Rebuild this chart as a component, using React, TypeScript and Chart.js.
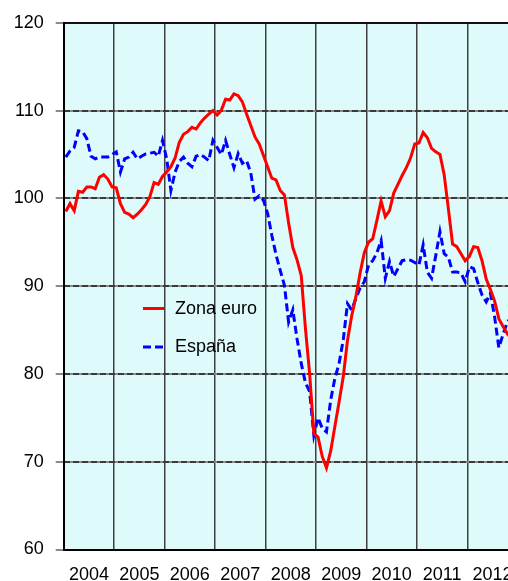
import React, { useEffect, useRef } from "react";
import { Chart, registerables } from "chart.js";

Chart.register(...registerables);

// ---- data ----
const startYear = 2004;
const endYear = 2013;
const yearLabels = ["2004", "2005", "2006", "2007", "2008", "2009", "2010", "2011", "2012"];
const yMin = 60;
const yMax = 120;
const yStep = 10;
const seriesNames = ["Zona euro", "España"];

// monthly values, Jan 2004 onward
const zonaEuro = [
  98.5, 99.4, 98.6, 100.8, 100.7, 101.3, 101.3, 101.1, 102.4, 102.7, 102.2, 101.3,
  101.2, 99.4, 98.4, 98.2, 97.8, 98.2, 98.7, 99.3, 100.2, 101.8, 101.6, 102.5,
  103.0, 103.6, 104.6, 106.4, 107.3, 107.6, 108.1, 107.9, 108.6, 109.15, 109.6, 110.0,
  109.5, 110.05, 111.3, 111.2, 111.9, 111.7, 111.0, 109.6, 108.3, 107.0, 106.2, 104.9,
  103.6, 102.3, 102.1, 100.9, 100.4, 97.2, 94.4, 93.0, 91.2, 85.2, 80.0, 73.2,
  72.8, 70.6, 69.3, 71.2, 74.0, 76.8, 79.7, 83.8, 86.6, 88.8, 91.5, 93.8,
  95.0, 95.4, 97.5, 99.7, 97.9, 98.6, 100.6, 101.6, 102.6, 103.5, 104.6, 106.2,
  106.3, 107.5, 106.9, 105.7, 105.3, 105.0, 102.7, 98.8, 94.8, 94.5, 93.7, 92.9,
  93.4, 94.5, 94.4, 92.9, 90.8, 89.6, 88.3, 86.3, 85.4, 84.6, 84.0,
];

const espana = [
  104.7, 105.4, 105.8, 107.7, 107.6, 106.8, 104.8, 104.5, 104.7, 104.7, 104.7, 105.0,
  105.3, 103.0, 104.5, 104.7, 105.25, 104.5, 104.8, 105.05, 105.15, 105.25, 104.8, 106.6,
  104.5, 100.9, 103.0, 104.2, 104.7, 104.0, 103.6, 104.8, 105.0, 104.7, 104.3, 106.6,
  105.8, 105.0, 106.6, 105.0, 103.5, 105.1, 104.0, 104.3, 102.9, 99.9, 100.3, 99.8,
  98.3, 95.8, 93.6, 91.8, 90.1, 85.9, 87.3, 84.0, 81.2, 79.0, 78.0, 73.0,
  75.0, 73.8, 73.4, 77.0, 79.5, 81.2, 83.9, 88.0, 87.3, 88.6, 89.8, 90.5,
  92.4, 92.9, 93.8, 95.2, 90.9, 92.8, 91.1, 92.0, 92.9, 93.0, 92.95, 92.7,
  92.4, 94.7, 91.6, 90.9, 93.5, 96.2, 93.7, 93.3, 91.6, 91.6, 91.5, 90.5,
  92.2, 92.0, 90.4, 89.0, 88.2, 89.2, 86.5, 83.0, 84.5, 85.9, 86.5,
];

const W = 540;
const H = 600;
const FONT = '"Liberation Sans", Arial, Helvetica, sans-serif';

export default function App() {
  const ref = useRef<HTMLCanvasElement>(null);

  useEffect(() => {
    if (!ref.current) return;
    const toPoints = (arr: number[]) =>
      arr.map((v, i) => ({ x: startYear + (i + 0.5) / 12, y: v }));

    const xTickValues: number[] = [];
    for (let v = startYear; v <= endYear + 1e-9; v += 0.5) xTickValues.push(v);

    const bgPlugin = {
      id: "bgArea",
      beforeDraw(chart: any) {
        const { ctx, chartArea: a } = chart;
        ctx.save();
        ctx.fillStyle = "#DFFAFB";
        ctx.fillRect(a.left, a.top, a.right - a.left, a.bottom - a.top);
        ctx.restore();
      },
    };

    const legendPlugin = {
      id: "inlineLegend",
      afterDatasetsDraw(chart: any) {
        const ctx = chart.ctx;
        const items = [
          { name: seriesNames[0], color: "#FF0000", dash: [] as number[], y: 308.5, x2: 164 },
          { name: seriesNames[1], color: "#0000FF", dash: [8, 4], y: 347, x2: 163 },
        ];
        ctx.save();
        items.forEach((it) => {
          ctx.beginPath();
          ctx.setLineDash(it.dash);
          ctx.strokeStyle = it.color;
          ctx.lineWidth = 3;
          ctx.moveTo(143, it.y);
          ctx.lineTo(it.x2, it.y);
          ctx.stroke();
          ctx.setLineDash([]);
          ctx.fillStyle = "#000";
          ctx.font = `18px ${FONT}`;
          ctx.textBaseline = "middle";
          ctx.textAlign = "left";
          ctx.fillText(it.name, 175, it.y + 0.5);
        });
        ctx.restore();
      },
    };

    const chart = new Chart(ref.current, {
      type: "line",
      data: {
        datasets: [
          {
            label: seriesNames[0],
            data: toPoints(zonaEuro),
            borderColor: "#FF0000",
            borderWidth: 3,
            pointRadius: 0,
            tension: 0,
            fill: false,
          },
          {
            label: seriesNames[1],
            data: toPoints(espana),
            borderColor: "#0000FF",
            borderWidth: 3,
            borderDash: [8, 4],
            pointRadius: 0,
            tension: 0,
            fill: false,
          },
        ],
      },
      options: {
        responsive: false,
        animation: false,
        devicePixelRatio: 1,
        layout: { padding: { top: 21.7, right: W - 517.75, left: 0, bottom: 0 } },
        plugins: { legend: { display: false }, tooltip: { enabled: false } },
        scales: {
          x: {
            type: "linear",
            min: startYear,
            max: endYear,
            afterBuildTicks: (s: any) => {
              s.ticks = xTickValues.map((v) => ({ value: v }));
            },
            afterFit: (s: any) => {
              s.height = H - 549.5;
            },
            grid: {
              color: (c: any) =>
                c.tick && Number.isInteger(c.tick.value) ? "#404040" : "rgba(0,0,0,0)",
              lineWidth: 1.5,
              drawTicks: false,
            },
            border: { display: true, color: "#000", width: 2 },
            ticks: {
              autoSkip: false,
              maxRotation: 0,
              minRotation: 0,
              padding: 15,
              color: "#000",
              font: { family: FONT, size: 18 },
              callback: (v: any) => {
                const n = Number(v);
                if (Math.abs(n - Math.floor(n) - 0.5) < 1e-6) {
                  const idx = Math.floor(n) - startYear;
                  return yearLabels[idx] ?? "";
                }
                return "";
              },
            },
          },
          y: {
            position: "left",
            min: yMin,
            max: yMax,
            afterFit: (s: any) => {
              s.width = 63.7;
            },
            grid: {
              color: (c: any) => (c.tick && c.tick.value === yMax ? "#111" : "#8a8a8a"),
              lineWidth: 2,
              drawTicks: true,
              tickLength: 8,
              tickColor: "#8a8a8a",
            },
            border: { display: true, color: "#000", width: 2 },
            ticks: {
              stepSize: yStep,
              padding: 12,
              color: "#000",
              font: { family: FONT, size: 18 },
            },
          },
          y2: {
            position: "left",
            min: yMin,
            max: yMax,
            afterFit: (s: any) => {
              s.width = 0;
            },
            grid: {
              color: (c: any) =>
                c.tick && c.tick.value > yMin && c.tick.value < yMax ? "#3a3a3a" : "rgba(0,0,0,0)",
              lineWidth: 2,
              drawTicks: false,
            },
            border: { display: false, dash: [6, 3] },
            ticks: { display: false, stepSize: yStep },
          },
        },
      } as any,
      plugins: [bgPlugin, legendPlugin],
    });

    return () => chart.destroy();
  }, []);

  return (
    <div
      style={{
        position: "absolute",
        left: 0,
        top: 0,
        width: 508,
        height: 581,
        overflow: "hidden",
        background: "#fff",
      }}
    >
      <canvas ref={ref} width={W} height={H} style={{ display: "block", width: W, height: H }} />
    </div>
  );
}
